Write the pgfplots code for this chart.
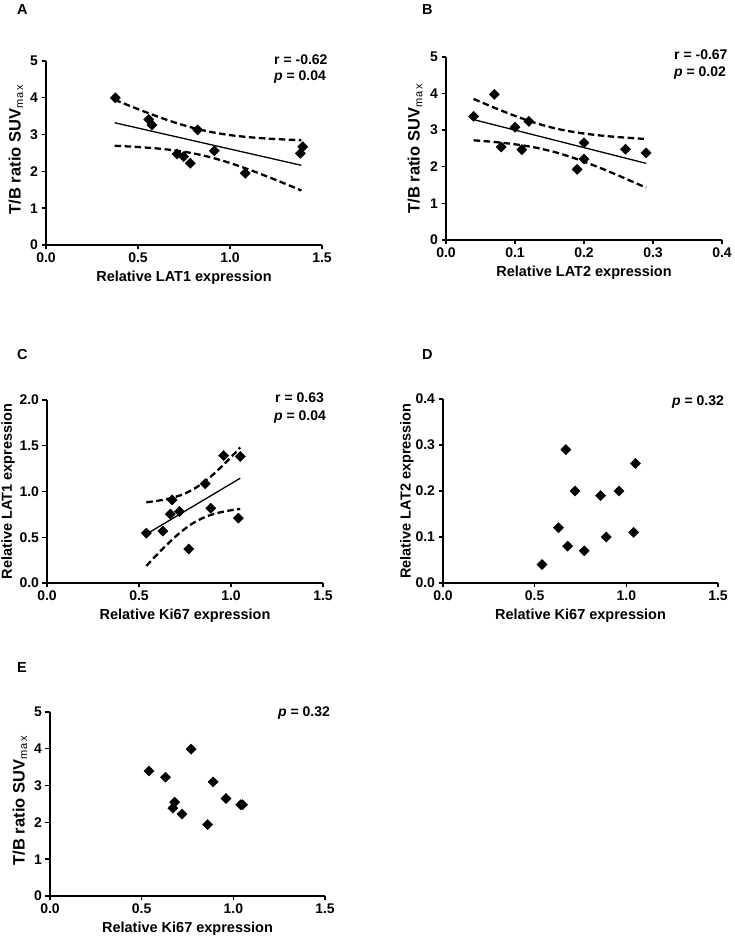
\documentclass[border=0pt]{standalone}
\usepackage{fontspec}
\setmainfont{Liberation Sans}
\usepackage{pgfplots}
\pgfplotsset{compat=1.18}
\begin{document}
\begin{tikzpicture}
\useasboundingbox (0pt,0pt) rectangle (734pt,941pt);
\pgfplotsset{
  panel/.style={
    scale only axis, width=276pt, height=184pt,
    axis lines=left, axis line style={line width=1.6pt,-},
    enlargelimits=false, clip=false,
    tick style={line width=1.4pt, black}, tick align=outside, major tick length=4.5pt,
    minor tick num=0,
    tick label style={font=\fontsize{14}{14}\selectfont\bfseries},
    every axis x label/.style={at={(axis description cs:0.5,-0.179)}, anchor=center, font=\fontsize{14.5}{15}\selectfont\bfseries},
    every axis y label/.style={at={(axis description cs:-0.109,0.5)}, rotate=90, anchor=center, font=\fontsize{14.5}{15}\selectfont\bfseries},
    xmin=0, xmax=1.5, xtick={0,0.5,1,1.5}, xticklabels={0.0,0.5,1.0,1.5},
  },
  pts/.style={only marks, mark=square*, mark size=3.6pt, mark options={rotate=45, fill=black, draw=black}, black},
  fit/.style={no marks, black, line width=1.3pt},
  ci/.style={no marks, smooth, black, line width=2.3pt, dash pattern=on 6.5pt off 3.5pt},
  suv/.style={ylabel={T/B ratio SUV\textsubscript{\mdseries\fontsize{11}{11}\selectfont m\kern1.5pt a\kern1.5pt x}}, ymin=0, ymax=5, ytick={0,1,2,3,4,5}, yticklabels={0,1,2,3,4,5},
    every axis y label/.append style={font=\fontsize{16.5}{17}\selectfont\bfseries}},
}
\tikzset{letter/.style={anchor=base west, font=\fontsize{14.5}{15}\selectfont\bfseries, inner sep=0pt},
         stat/.style={anchor=base west, font=\fontsize{14}{15}\selectfont\bfseries, inner sep=0pt}}

% ---------- A ----------
\begin{axis}[panel, suv, at={(46pt,696pt)}, anchor=south west, xlabel={Relative LAT1 expression},
  every axis y label/.append style={at={(axis description cs:-0.109,0.52)}}]
\addplot[pts] coordinates {(0.377,4.00) (0.558,3.41) (0.576,3.26) (0.824,3.125) (0.712,2.47) (0.748,2.40) (0.784,2.22) (0.915,2.56) (1.083,1.95) (1.382,2.49) (1.395,2.67)};
\addplot[fit] coordinates {(0.373,3.322) (1.388,2.165)};
\addplot[ci] coordinates {(0.373,3.948) (0.45,3.791) (0.5,3.692) (0.6,3.501) (0.7,3.328) (0.8,3.181) (0.9,3.067) (1.0,2.986) (1.1,2.931) (1.2,2.893) (1.3,2.866) (1.388,2.848)};
\addplot[ci] coordinates {(0.373,2.696) (0.45,2.677) (0.5,2.662) (0.6,2.625) (0.7,2.570) (0.8,2.490) (0.9,2.376) (1.0,2.228) (1.1,2.055) (1.2,1.865) (1.3,1.664) (1.388,1.482)};
\end{axis}
\node[letter] at (17pt,926pt) {A};
\node[stat] at (274pt,876pt) {r = -0.62};
\node[stat] at (274pt,860pt) {{\itshape p} = 0.04};

% ---------- B ----------
\begin{axis}[panel, suv, at={(446pt,701pt)}, anchor=south west, height=183pt, xlabel={Relative LAT2 expression},
  xmin=0, xmax=0.4, xtick={0,0.1,0.2,0.3,0.4}, xticklabels={0.0,0.1,0.2,0.3,0.4},
  every axis y label/.append style={at={(axis description cs:-0.112,0.5)}}]
\addplot[pts] coordinates {(0.04,3.38) (0.07,3.98) (0.08,2.54) (0.10,3.08) (0.11,2.47) (0.12,3.24) (0.19,1.93) (0.20,2.66) (0.20,2.21) (0.26,2.48) (0.29,2.38)};
\addplot[fit] coordinates {(0.04,3.289) (0.29,2.094)};
\addplot[ci] coordinates {(0.04,3.854) (0.07,3.614) (0.10,3.390) (0.13,3.195) (0.16,3.042) (0.19,2.935) (0.22,2.863) (0.25,2.811) (0.29,2.758)};
\addplot[ci] coordinates {(0.04,2.724) (0.07,2.678) (0.10,2.615) (0.13,2.523) (0.16,2.389) (0.19,2.209) (0.22,1.995) (0.25,1.760) (0.29,1.430)};
\end{axis}
\node[letter] at (422pt,926pt) {B};
\node[stat] at (674pt,881.5pt) {r = -0.67};
\node[stat] at (674pt,864pt) {{\itshape p} = 0.02};

% ---------- C ----------
\begin{axis}[panel, at={(47pt,358pt)}, anchor=south west, height=183pt, xlabel={Relative Ki67 expression},
  ylabel={Relative LAT1 expression}, ymin=0, ymax=2, ytick={0,0.5,1,1.5,2}, yticklabels={0.0,0.5,1.0,1.5,2.0},
  every axis y label/.append style={at={(axis description cs:-0.141,0.5)}}]
\addplot[pts] coordinates {(0.54,0.545) (0.63,0.567) (0.67,0.753) (0.68,0.909) (0.72,0.782) (0.77,0.371) (0.86,1.084) (0.89,0.818) (0.96,1.393) (1.04,0.709) (1.05,1.382)};
\addplot[fit] coordinates {(0.54,0.534) (1.05,1.145)};
\addplot[ci] coordinates {(0.54,0.882) (0.6,0.898) (0.65,0.917) (0.7,0.942) (0.75,0.978) (0.8,1.030) (0.85,1.098) (0.9,1.180) (0.95,1.274) (1.0,1.375) (1.05,1.481)};
\addplot[ci] coordinates {(0.54,0.187) (0.6,0.314) (0.65,0.415) (0.7,0.510) (0.75,0.593) (0.8,0.662) (0.85,0.713) (0.9,0.750) (0.95,0.776) (1.0,0.795) (1.05,0.809)};
\end{axis}
\node[letter] at (17pt,581.7pt) {C};
\node[stat] at (275pt,538pt) {r = 0.63};
\node[stat] at (274pt,520pt) {{\itshape p} = 0.04};

% ---------- D ----------
\begin{axis}[panel, at={(443pt,358pt)}, anchor=south west, width=275pt, xlabel={Relative Ki67 expression},
  ylabel={Relative LAT2 expression}, ymin=0, ymax=0.4, ytick={0,0.1,0.2,0.3,0.4}, yticklabels={0.0,0.1,0.2,0.3,0.4},
  every axis y label/.append style={at={(axis description cs:-0.131,0.5)}}]
\addplot[pts] coordinates {(0.54,0.04) (0.63,0.12) (0.68,0.08) (0.67,0.29) (0.72,0.20) (0.77,0.07) (0.86,0.19) (0.89,0.10) (0.96,0.20) (1.04,0.11) (1.05,0.26)};
\end{axis}
\node[letter] at (422pt,581.7pt) {D};
\node[stat] at (672pt,535.8pt) {{\itshape p} = 0.32};

% ---------- E ----------
\begin{axis}[panel, suv, at={(50pt,45pt)}, anchor=south west, width=275pt, xlabel={Relative Ki67 expression},
  every axis y label/.append style={at={(axis description cs:-0.109,0.52)}}]
\addplot[pts] coordinates {(0.54,3.40) (0.63,3.23) (0.77,3.99) (0.89,3.10) (0.96,2.65) (0.68,2.55) (0.67,2.39) (0.72,2.23) (0.86,1.94) (1.04,2.48) (1.05,2.48)};
\end{axis}
\node[letter] at (17pt,268.7pt) {E};
\node[stat] at (278pt,224.8pt) {{\itshape p} = 0.32};
\end{tikzpicture}
\end{document}
